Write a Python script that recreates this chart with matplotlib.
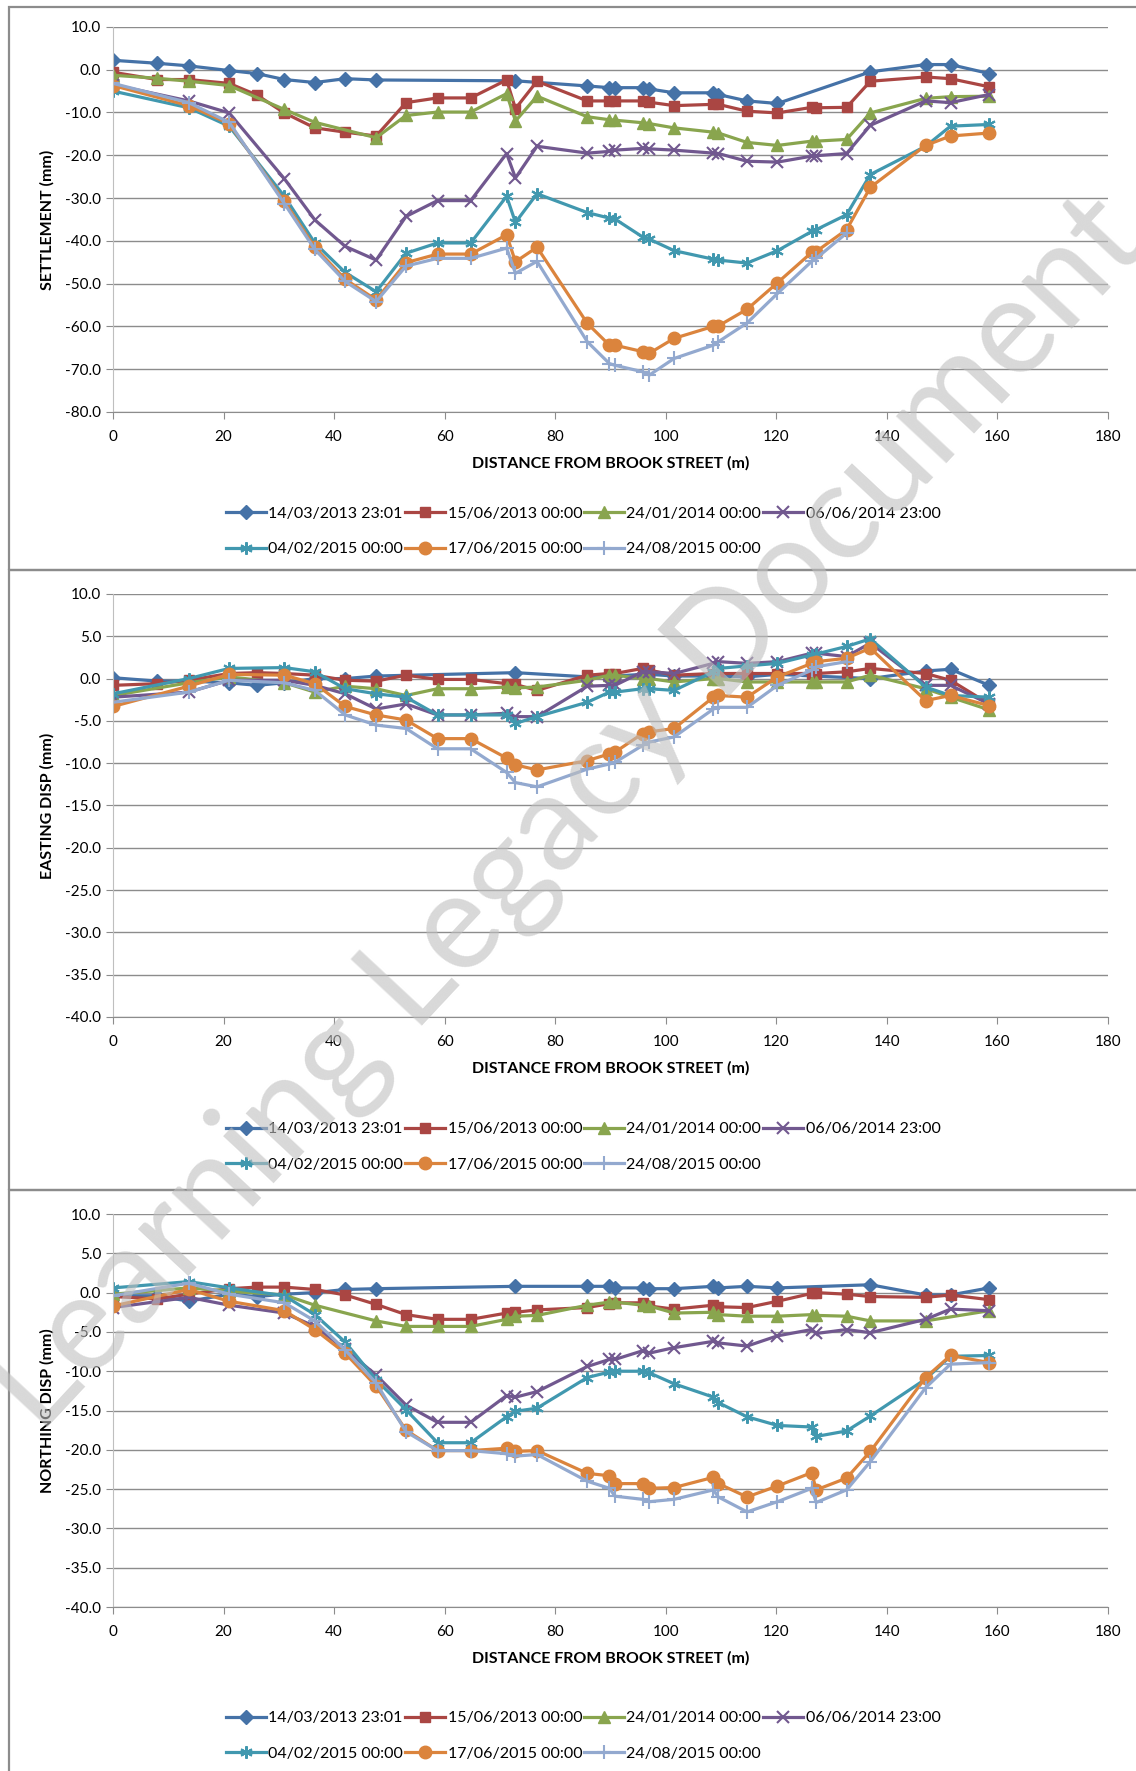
import numpy as np
import matplotlib
matplotlib.use('Agg')
import matplotlib.pyplot as plt
from matplotlib.patches import Rectangle

plt.rcParams['font.family'] = ['Lato', 'DejaVu Sans']
plt.rcParams['axes.unicode_minus'] = False

N = np.nan

# distance from Brook Street (m) of each monitoring point
dist = [0, 8, 13.7, 21, 26, 31, 36.5, 42, 47.6, 53, 58.7, 64.7, 71.2, 72.8, 76.7,
        85.8, 89.8, 90.8, 95.8, 97, 101.5, 108.6, 109.5, 114.7, 120.2, 126.4,
        127.2, 132.7, 137, 147, 151.5, 158.5]

dates = ['14/03/2013 23:01', '15/06/2013 00:00', '24/01/2014 00:00', '06/06/2014 23:00',
         '04/02/2015 00:00', '17/06/2015 00:00', '24/08/2015 00:00']

# settlement (mm)
sett_1 = [2.2, 1.5, 0.9, -0.2, -0.9, -2.3, -3.0, -2.1, -2.4, N, N, N, N, -2.6, N,
          -3.8, -4.2, -4.2, -4.2, -4.5, -5.4, -5.4, -5.8, -7.3, -7.9, N, N, N, -0.5, 1.2, 1.2, -0.9]
sett_2 = [-0.6, -2.3, -2.3, -3.2, -5.9, -10.1, -13.6, -14.6, -15.5, -7.7, -6.6, -6.6, -2.4, -9.1, -2.7,
          -7.3, -7.3, -7.3, -7.3, -7.6, -8.4, -8.1, -8.1, -9.7, -10.1, -8.8, -8.9, -8.8, -2.7, -1.7, -2.1, -4.0]
sett_3 = [-1.3, -2.0, -2.7, -3.7, N, -9.3, -12.3, N, -15.9, -10.7, -9.9, -9.9, -5.6, -12.0, -6.2,
          -11.0, -11.7, -11.8, -12.4, -12.6, -13.6, -14.6, -14.8, -17.0, -17.7, -16.7, -16.7, -16.3, -10.1, -6.7, -6.3, -6.2]
sett_4 = [-3.5, N, -7.3, -10.1, N, -25.5, -35.1, -41.3, -44.5, -34.3, -30.6, -30.6, -19.6, -25.3, -17.9,
          -19.5, -19.1, -18.8, -18.4, -18.5, -18.8, -19.5, -19.6, -21.4, -21.6, -20.2, -20.1, -19.6, -13.0, -7.3, -7.7, -5.8]
sett_5 = [-5.0, N, -8.9, -13.2, N, -29.6, -40.5, -47.4, -51.9, -42.9, -40.5, -40.5, -29.6, -35.7, -29.0,
          -33.4, -34.7, -34.9, -39.1, -39.6, -42.3, -44.3, -44.5, -45.2, -42.3, -37.8, -37.4, -33.9, -24.5, -17.9, -13.2, -12.8]
sett_6 = [-3.7, N, -8.4, -12.6, N, -30.8, -41.5, -49.0, -53.8, -45.1, -43.1, -43.1, -38.6, -44.9, -41.5,
          -59.3, -64.4, -64.4, -65.9, -66.3, -62.8, -60.0, -59.9, -56.0, -49.8, -42.7, -42.5, -37.4, -27.5, -17.7, -15.5, -14.8]
sett_7 = [-3.2, N, -7.7, -12.3, N, -31.3, -42.0, -49.5, -54.2, -45.9, -44.1, -44.1, -41.7, -47.6, -44.8,
          -63.6, -68.7, -69.1, -70.6, -71.4, -67.5, -64.4, -63.6, -59.2, -52.3, -44.8, -44.1, -38.2, N, N, N, N]

# easting displacement (mm)
east_1 = [0.1, -0.3, -0.3, -0.5, -0.8, -0.5, 0.0, 0.0, 0.3, N, N, N, N, 0.7, N,
          0.2, 0.3, 0.3, 0.5, 0.5, 0.3, 0.3, 0.3, 0.2, 0.5, N, N, N, 0.0, 0.9, 1.1, -0.8]
east_2 = [-0.8, -0.6, -0.2, 0.6, 0.7, 0.6, 0.4, -0.2, -0.3, 0.4, -0.1, -0.1, -0.6, -0.7, -1.4,
          0.4, 0.6, 0.6, 1.2, 1.0, 0.4, 0.6, 0.6, 0.6, 0.6, 0.6, 0.6, 0.8, 1.2, 0.6, -0.2, -3.0]
east_3 = [-2.0, N, -0.5, 0.2, N, -0.5, -1.6, -0.9, -1.2, -2.0, -1.2, -1.2, -1.0, -1.1, -1.0,
          -0.2, 0.4, 0.4, 0.0, 0.0, -0.4, 0.0, 0.0, -0.4, -0.4, -0.4, -0.4, -0.4, 0.4, -1.2, -2.2, -3.7]
east_4 = [-2.2, N, -1.6, -0.2, N, -0.2, -0.8, -1.8, -3.6, -3.0, -4.3, -4.3, -4.1, -4.5, -4.5,
          -0.9, -0.8, -0.8, 0.8, 0.8, 0.6, 1.8, 2.0, 1.8, 2.0, 3.0, 3.0, 2.6, 4.2, -0.8, -0.8, -3.0]
east_5 = [-1.8, N, 0.0, 1.2, N, 1.3, 0.8, -1.2, -1.8, -2.2, -4.3, -4.3, -4.3, -5.3, -4.5,
          -2.8, -1.6, -1.6, -1.2, -1.2, -1.4, 0.8, 1.2, 1.5, 1.8, 2.8, 2.9, 3.8, 4.7, -1.0, -2.0, -2.2]
east_6 = [-3.3, N, -0.9, 0.5, N, 0.4, -0.6, -3.3, -4.3, -4.9, -7.1, -7.1, -9.4, -10.2, -10.8,
          -9.7, -8.9, -8.7, -6.5, -6.3, -5.9, -2.2, -2.0, -2.2, 0.2, 1.8, 2.0, 2.4, 3.6, -2.6, -2.0, -3.2]
east_7 = [-2.8, N, -1.6, -0.2, N, -0.5, -1.4, -4.3, -5.5, -5.9, -8.3, -8.3, -11.1, -12.3, -12.8,
          -10.7, -10.1, -9.9, -7.9, -7.5, -6.9, -3.6, -3.4, -3.4, -0.8, 1.0, 1.4, 2.0, N, N, N, N]

# northing displacement (mm)
north_1 = [-0.4, -0.4, -1.1, -0.2, -0.5, -0.2, 0.0, 0.4, 0.5, N, N, N, N, 0.8, N,
           0.8, 0.8, 0.6, 0.6, 0.5, 0.5, 0.8, 0.6, 0.8, 0.6, N, N, N, 1.0, -0.3, -0.3, 0.6]
north_2 = [-0.5, -0.8, -0.2, 0.5, 0.7, 0.7, 0.4, -0.3, -1.5, -2.8, -3.4, -3.4, -2.6, -2.5, -2.2,
           -1.9, -1.4, -1.3, -1.3, -1.7, -2.1, -1.6, -1.8, -1.9, -1.1, -0.1, 0.0, -0.2, -0.5, -0.6, -0.3, -0.9]
north_3 = [-0.2, N, 0.6, 0.2, N, -0.3, -1.6, N, -3.6, -4.3, -4.3, -4.3, -3.4, -3.0, -2.9,
           -1.6, -1.2, -1.2, -1.6, -1.7, -2.6, -2.5, -2.8, -3.0, -3.0, -2.8, -2.9, -3.0, -3.6, -3.6, N, -2.3]
north_4 = [-1.9, N, -0.6, -1.6, N, -2.6, -4.3, -7.2, -10.5, -14.3, -16.5, -16.5, -13.1, -13.3, -12.6,
           -9.4, -8.5, -8.5, -7.4, -7.7, -7.0, -6.2, -6.4, -6.8, -5.5, -4.7, -5.2, -4.7, -5.1, -3.4, -2.1, -2.3]
north_5 = [0.6, N, 1.4, 0.6, N, -0.4, -2.8, -6.3, -11.1, -14.9, -19.1, -19.1, -15.8, -15.1, -14.7,
           -10.8, -10.1, -10.0, -10.0, -10.2, -11.6, -13.3, -14.0, -15.8, -16.9, -17.1, -18.3, -17.6, -15.7, -11.0, -8.1, -8.0]
north_6 = [-1.7, N, 0.4, -1.1, N, -2.3, -4.7, -7.7, -11.9, -17.5, -20.1, -20.1, -19.8, -20.2, -20.1,
           -23.0, -23.3, -24.3, -24.3, -24.9, -24.8, -23.5, -24.3, -26.0, -24.6, -22.9, -25.1, -23.6, -20.2, -10.8, -8.0, -8.9]
north_7 = [-0.4, N, 1.2, -0.2, N, -1.3, -3.6, -7.3, -11.5, -17.7, -20.1, -20.1, -20.5, -20.8, -20.6,
           -24.0, -24.9, -25.9, -26.3, -26.6, -26.3, -25.1, -26.0, -27.9, -26.6, -24.9, -26.7, -25.1, -21.5, -12.1, -9.1, -8.9]

colors = ['#4572A7', '#AA4643', '#89A54E', '#71588F', '#4198AF', '#DB843D', '#93A9CF']
markers = ['D', 's', '^', 'x', (6, 2, 0), 'o', '+']
msizes = [7, 7.5, 8.5, 8, 9, 9, 10]

fig = plt.figure(figsize=(11.36, 17.71), dpi=100)

# chart area borders
for y0, h in [(0.678, 0.318), (0.328, 0.350), (-0.1, 0.428)]:
    fig.add_artist(Rectangle((0.008, y0), 1.1, h, transform=fig.transFigure,
                             fill=False, ec='#8c8c8c', lw=1.6))


def draw_panel(rect, series, ymin, ymax, ystep, ylabel, leg_y):
    ax = fig.add_axes(rect)
    xs = np.array(dist)
    handles = []
    for vals, c, mk, ms in zip(series, colors, markers, msizes):
        y = np.array(vals, dtype=float)
        ok = ~np.isnan(y)
        thin = mk in ('x', '+') or isinstance(mk, tuple)
        h, = ax.plot(xs[ok], y[ok], color=c, lw=2.3, marker=mk, ms=ms,
                     mec=c, mfc=c, mew=1.5 if thin else 1)
        handles.append(h)
    ax.set_xlim(0, 180)
    ax.set_ylim(ymin, ymax)
    ax.set_xticks(np.arange(0, 181, 20))
    ax.set_yticks(np.arange(ymin, ymax + 0.01, ystep))
    ax.yaxis.set_major_formatter(plt.FormatStrFormatter('%.1f'))
    ax.yaxis.grid(True, color='#8c8c8c', lw=1)
    ax.set_axisbelow(True)
    for s in ('top', 'right'):
        ax.spines[s].set_visible(False)
    ax.spines['left'].set_color('#bfbfbf')
    ax.spines['bottom'].set_color('#8c8c8c')
    ax.tick_params(axis='both', colors='#8c8c8c', labelcolor='black', labelsize=11, length=5)
    ax.tick_params(axis='x', pad=8)
    ax.set_ylabel(ylabel, fontsize=11.5, fontweight='bold', labelpad=8)
    ax.set_xlabel('DISTANCE FROM BROOK STREET (m)', fontsize=11.5, fontweight='bold', labelpad=9)
    # legend filled row by row
    order = [0, 4, 1, 5, 2, 6, 3]
    fig.legend([handles[i] for i in order], [dates[i] for i in order], ncol=4,
               loc='center left', bbox_to_anchor=(0.192, leg_y), frameon=False,
               fontsize=11.5, handlelength=2.5, handletextpad=0.15,
               columnspacing=0.12, labelspacing=1.35, borderpad=0)
    return ax


draw_panel([0.0995, 0.7674, 0.8759, 0.2174],
           [sett_1, sett_2, sett_3, sett_4, sett_5, sett_6, sett_7],
           -80, 10, 10, 'SETTLEMENT (mm)', 0.6999)
draw_panel([0.0995, 0.4258, 0.8759, 0.2388],
           [east_1, east_2, east_3, east_4, east_5, east_6, east_7],
           -40, 10, 5, 'EASTING DISP (mm)', 0.3523)
draw_panel([0.0995, 0.0926, 0.8759, 0.2219],
           [north_1, north_2, north_3, north_4, north_5, north_6, north_7],
           -40, 10, 5, 'NORTHING DISP (mm)', 0.0198)

# watermark
fig.text(0.50, 0.54, 'Learning Legacy Document', rotation=47, ha='center', va='center',
         fontsize=98, color='#bfbfbf', alpha=0.6, zorder=20)

fig.savefig('out.png', dpi=100)
